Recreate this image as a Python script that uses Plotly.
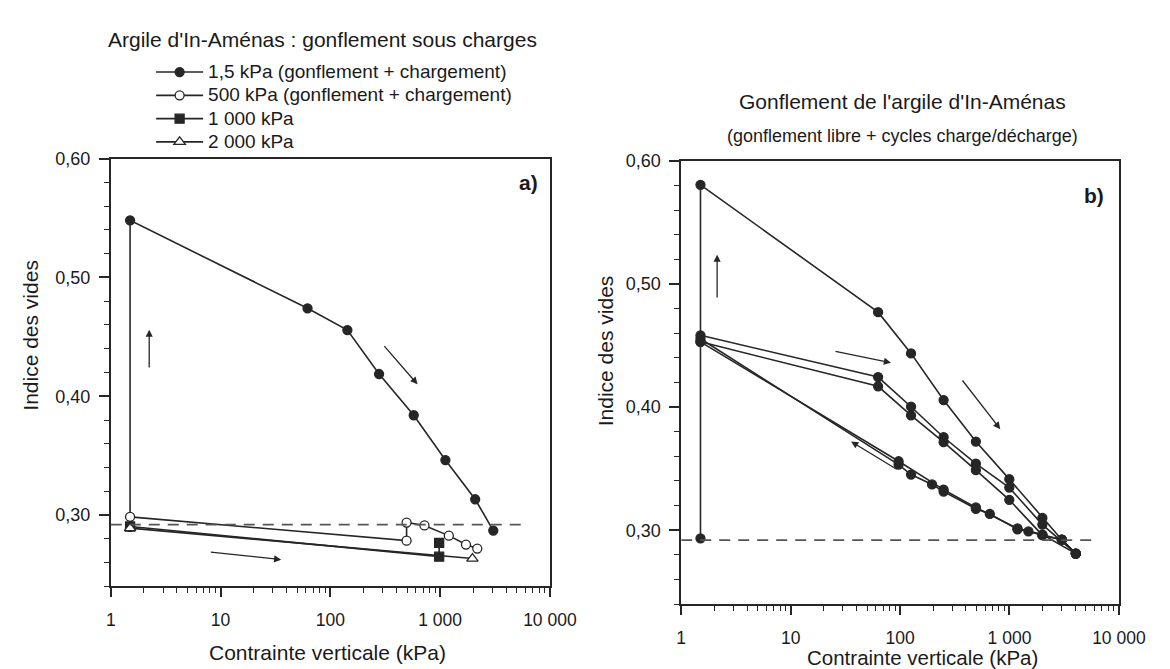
import numpy as np
import plotly.graph_objects as go

# ---------------- data : panel a) (gonflement sous charges) ----------------
a1_x = [1.5, 1.5, 62, 143, 278, 575, 1117, 2087, 3050]
a1_y = [0.290, 0.548, 0.474, 0.4557, 0.4187, 0.3840, 0.3463, 0.3133, 0.2870]

a2_x = [1.5, 495, 495, 720, 1200, 1720, 2180]
a2_y = [0.2985, 0.2785, 0.2937, 0.2913, 0.2827, 0.2752, 0.2718]

a3_x = [1.5, 980, 980]
a3_y = [0.2904, 0.2650, 0.2766]

a4_x = [1.5, 1970]
a4_y = [0.2890, 0.2634]

a_names = ["1,5 kPa (gonflement + chargement)",
           "500 kPa (gonflement + chargement)",
           "1 000 kPa",
           "2 000 kPa"]

# ---------------- data : panel b) (gonflement libre + cycles) ----------------
b_load1_x = [1.5, 1.5, 63, 126, 250, 493, 996, 1998, 3008, 4036]
b_load1_y = [0.2933, 0.5805, 0.4771, 0.4436, 0.4057, 0.3720, 0.3415, 0.3100, 0.2923, 0.2810]

b_unload1_x = [4036, 3008, 1998, 1490, 1183, 661, 493, 250, 196, 126, 97, 1.5]
b_unload1_y = [0.2810, 0.2923, 0.2960, 0.2990, 0.3007, 0.3132, 0.3174, 0.3314, 0.3372, 0.3452, 0.3533, 0.4555]

b_reload1_x = [1.5, 63, 126, 250, 493, 996, 1998, 4036]
b_reload1_y = [0.4583, 0.4244, 0.4003, 0.3755, 0.3540, 0.3346, 0.3046, 0.2810]

b_unload2_x = [4036, 1998, 1183, 493, 250, 97, 1.5]
b_unload2_y = [0.2810, 0.2965, 0.3015, 0.3185, 0.3330, 0.3560, 0.4530]

b_reload2_x = [1.5, 63, 126, 250, 493, 996, 1998, 3008, 4036]
b_reload2_y = [0.4530, 0.4169, 0.3933, 0.3715, 0.3488, 0.3247, 0.2960, 0.2923, 0.2810]

# reference void ratio (dashed line)
e_ref = 0.292
a_ref_x = [1, 5800]
b_ref_x = [1, 5600]

# arrows: (tail x, tail y, head x, head y)
a_arrows = [(2.24, 0.423, 2.24, 0.456),
            (7.9, 0.269, 35.7, 0.2625),
            (302, 0.4434, 623, 0.410)]
b_arrows = [(2.13, 0.4877, 2.13, 0.5238),
            (24.9, 0.4455, 82.6, 0.4361),
            (363, 0.4228, 824, 0.3821),
            (96, 0.3488, 35.7, 0.372)]

# axis ticks
x_tickvals = [1, 10, 100, 1000, 10000]
x_ticktext = ["1", "10", "100", "1 000", "10 000"]
x_minor = [m * 10 ** d for d in range(4) for m in range(2, 10)]
y_tickvals = [0.30, 0.40, 0.50, 0.60]
y_ticktext = ["0,30", "0,40", "0,50", "0,60"]
y_minor = [0.24, 0.26, 0.28, 0.32, 0.34, 0.36, 0.38, 0.42, 0.44, 0.46, 0.48, 0.52, 0.54, 0.56, 0.58]

# ---------------- figure ----------------
W, H = 1170, 669
FONT = "Liberation Sans, Arial, sans-serif"
INK = "#262626"
TXT = "#1a1a1a"


def px(x):
    return x / W


def py(y):
    return 1 - y / H


fig = go.Figure()


def add(x, y, xa, ya, symbol, fill, name=None, legend=False, size=9):
    fig.add_trace(go.Scatter(
        x=x, y=y, xaxis=xa, yaxis=ya, mode="lines+markers",
        name=None if name is None else "<span style='font-size:19px'>%s</span>" % name,
        showlegend=legend,
        line=dict(color=INK, width=1.6),
        marker=dict(symbol=symbol, size=size, color=fill,
                    line=dict(color=INK, width=1.3)),
    ))


add(a1_x, a1_y, "x", "y", "circle", INK, a_names[0], True)
add(a2_x, a2_y, "x", "y", "circle", "white", a_names[1], True)
add(a3_x, a3_y, "x", "y", "square", INK, a_names[2], True)
add(a4_x, a4_y, "x", "y", "triangle-up", "white", a_names[3], True, size=10)

for bx, by in [(b_load1_x, b_load1_y), (b_unload1_x, b_unload1_y),
               (b_reload1_x, b_reload1_y), (b_unload2_x, b_unload2_y),
               (b_reload2_x, b_reload2_y)]:
    add(bx, by, "x2", "y2", "circle", INK)

for xs, xa, ya in [(a_ref_x, "x", "y"), (b_ref_x, "x2", "y2")]:
    fig.add_trace(go.Scatter(x=xs, y=[e_ref, e_ref], xaxis=xa, yaxis=ya,
                             mode="lines", showlegend=False,
                             line=dict(color="#555555", width=1.6, dash="11px,8px")))

annotations = []
for arrows, xr, yr in [(a_arrows, "x", "y"), (b_arrows, "x2", "y2")]:
    for tx, ty, hx, hy in arrows:
        annotations.append(dict(
            x=np.log10(hx), y=hy, ax=np.log10(tx), ay=ty,
            xref=xr, yref=yr, axref=xr, ayref=yr, text="",
            showarrow=True, arrowhead=2, arrowsize=1.1, arrowwidth=1.3,
            arrowcolor=INK))

texts = [
    ("Argile d'In-Aménas : gonflement sous charges", 318, 22, 21, 0),
    ("Gonflement de l'argile d'In-Aménas", 914, 85, 21, 0),
    ("(gonflement libre + cycles charge/décharge)", 915, 120, 18, 0),
    ("<b>a)</b>", 530, 167, 21, 0),
    ("<b>b)</b>", 1111, 180, 21, 0),
    ("Contrainte verticale (kPa)", 323, 644, 21, 0),
    ("Contrainte verticale (kPa)", 935, 649, 20.5, 0),
    ("Indice des vides", 18, 322, 21, -90),
    ("Indice des vides", 610, 338, 21, -90),
]
for t, x, y, s, ang in texts:
    annotations.append(dict(text=t, x=px(x), y=py(y), xref="paper", yref="paper",
                            showarrow=False, xanchor="center", yanchor="middle",
                            borderpad=0,
                            textangle=ang, font=dict(size=s, family=FONT, color=TXT)))

xcommon = dict(type="log", range=[0, 4], tickmode="array", tickvals=x_tickvals,
               ticktext=x_ticktext, ticks="outside", ticklen=9, tickwidth=1.5,
               tickcolor=INK, showline=True, linecolor=INK, linewidth=1.6,
               mirror=True, showgrid=False, zeroline=False, ticklabelstandoff=8,
               tickfont=dict(size=17.5, family=FONT, color=TXT),
               minor=dict(tickvals=x_minor, ticks="outside", ticklen=5,
                          tickwidth=1.2, tickcolor=INK, showgrid=False))
ycommon = dict(range=[0.24, 0.60], tickmode="array", tickvals=y_tickvals,
               ticktext=y_ticktext, ticks="outside", ticklen=10, tickwidth=1.5,
               tickcolor=INK, showline=True, linecolor=INK, linewidth=1.6,
               mirror=True, showgrid=False, zeroline=False, ticklabelstandoff=5,
               tickfont=dict(size=18, family=FONT, color=TXT),
               minor=dict(tickvals=y_minor, ticks="outside", ticklen=5,
                          tickwidth=1.2, tickcolor=INK, showgrid=False))

fig.update_layout(
    width=W, height=H,
    margin=dict(l=0, r=0, t=0, b=0),
    paper_bgcolor="white", plot_bgcolor="white",
    font=dict(family=FONT, color=TXT),
    xaxis=dict(domain=[px(100.5), px(552)], anchor="y", **xcommon),
    yaxis=dict(domain=[py(577), py(142.7)], anchor="x", **ycommon),
    xaxis2=dict(domain=[px(687), px(1137)], anchor="y2", **xcommon),
    yaxis2=dict(domain=[py(595), py(145)], anchor="x2", **ycommon),
    legend=dict(x=px(142), y=py(38), xanchor="left", yanchor="top",
                bgcolor="rgba(0,0,0,0)", itemwidth=47,
                font=dict(size=15.6, family=FONT, color=TXT),
                tracegroupgap=0),
    annotations=annotations,
)

fig.write_html("out.html")
